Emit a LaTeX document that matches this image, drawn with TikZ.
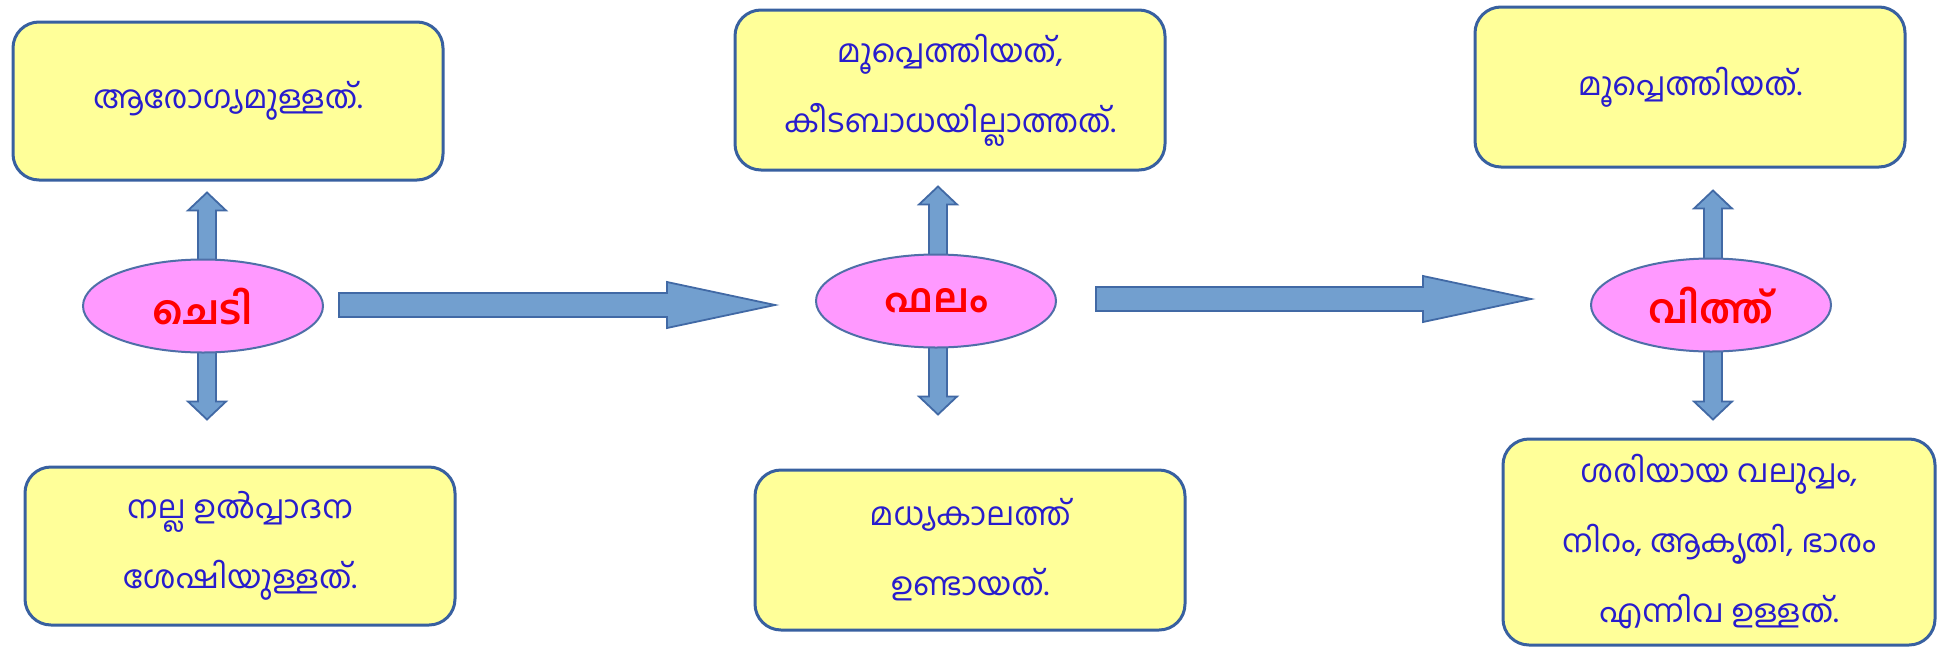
\documentclass[tikz,border=0pt]{standalone}
\usepackage{fontspec}
\newfontfamily\mlfont[Script=Malayalam]{Hind Kochi}
\usetikzlibrary{shapes.geometric,calc}
\pgfdeclarelayer{bg}
\pgfsetlayers{bg,main}
\definecolor{boxfill}{RGB}{255,255,153}
\definecolor{boxline}{RGB}{56,96,160}
\definecolor{mltext}{RGB}{40,28,205}
\definecolor{ellfill}{RGB}{255,153,255}
\definecolor{ellline}{RGB}{79,111,168}
\definecolor{arrfill}{RGB}{114,159,207}
\definecolor{arrline}{RGB}{65,105,165}
\tikzset{
  infobox/.style={draw=boxline, line width=3pt, fill=boxfill, rounded corners=26pt,
    minimum width=430pt, minimum height=158pt, align=center, text=mltext, inner sep=0pt,
    font=\mlfont\fontsize{32}{70}\selectfont},
  stage/.style={ellipse, draw=ellline, line width=2pt, fill=ellfill, minimum width=240pt,
    minimum height=93pt, inner sep=0pt, text=red, font=\mlfont\bfseries\fontsize{40}{44}\selectfont},
  arrowbody/.style={fill=arrfill, draw=arrline, line width=1.8pt, line join=miter}
}
% #1 from, #2 to, #3 shaft half width, #4 head half width, #5 head length
\newcommand\blockarrow[5]{%
  \path[arrowbody] let \p1=#1, \p2=#2, \n1={veclen(\x2-\x1,\y2-\y1)},
    \n2={(\x2-\x1)/\n1}, \n3={(\y2-\y1)/\n1} in
    ({\x1-\n3*#3},{\y1+\n2*#3}) -- ({\x2-\n2*#5-\n3*#3},{\y2-\n3*#5+\n2*#3})
    -- ({\x2-\n2*#5-\n3*#4},{\y2-\n3*#5+\n2*#4}) -- (\p2)
    -- ({\x2-\n2*#5+\n3*#4},{\y2-\n3*#5-\n2*#4}) -- ({\x2-\n2*#5+\n3*#3},{\y2-\n3*#5-\n2*#3})
    -- ({\x1+\n3*#3},{\y1-\n2*#3}) -- cycle;}
\begin{document}
\begin{tikzpicture}[x=1pt,y=-1pt]
\useasboundingbox (0,0) rectangle (1941,651);
% stages
\node[stage] (e1) at (203,306) {ചെടി};
\node[stage] (e2) at (936,301) {ഫലം};
\node[stage] (e3) at (1711,305) {വിത്ത്};
% boxes
\node[infobox] (b1) at (228,101) {ആരോഗ്യമുള്ളത്.};
\node[infobox, minimum height=160pt] (b2) at (950,90) {മൂപ്പെത്തിയത്,\\കീടബാധയില്ലാത്തത്.};
\node[infobox, minimum height=160pt] (b3) at (1690,87) {മൂപ്പെത്തിയത്.};
\node[infobox] (b4) at (240,546) {നല്ല ഉൽപ്പാദന\\ശേഷിയുള്ളത്.};
\node[infobox, minimum height=160pt] (b5) at (970,550) {മധ്യകാലത്ത്\\ഉണ്ടായത്.};
\node[infobox, minimum width=432pt, minimum height=206pt] (b6) at (1719,542) {ശരിയായ വലുപ്പം,\\നിറം, ആകൃതി, ഭാരം\\എന്നിവ ഉള്ളത്.};
% arrow end points
\coordinate (u1a) at ($(e1.north)+(4,4)$);  \coordinate (u1b) at ($(e1.north)+(4,-66)$);
\coordinate (d1a) at ($(e1.south)+(4,-4)$); \coordinate (d1b) at ($(e1.south)+(4,66)$);
\coordinate (u2a) at ($(e2.north)+(2,4)$);  \coordinate (u2b) at ($(e2.north)+(2,-67)$);
\coordinate (d2a) at ($(e2.south)+(2,-4)$); \coordinate (d2b) at ($(e2.south)+(2,66)$);
\coordinate (u3a) at ($(e3.north)+(2,4)$);  \coordinate (u3b) at ($(e3.north)+(2,-67)$);
\coordinate (d3a) at ($(e3.south)+(2,-4)$); \coordinate (d3b) at ($(e3.south)+(2,67)$);
\coordinate (h1a) at ($(e1.east)+(15,-1)$); \coordinate (h1b) at ($(h1a -| e2.west)+(-40,0)$);
\coordinate (h2a) at ($(e2.east)+(39,-2)$); \coordinate (h2b) at ($(h2a -| e3.west)+(-59,0)$);
\begin{pgfonlayer}{bg}
\blockarrow{(u1a)}{(u1b)}{9}{19}{18}
\blockarrow{(d1a)}{(d1b)}{9}{19}{18}
\blockarrow{(u2a)}{(u2b)}{9}{19}{18}
\blockarrow{(d2a)}{(d2b)}{9}{19}{18}
\blockarrow{(u3a)}{(u3b)}{9}{19}{18}
\blockarrow{(d3a)}{(d3b)}{9}{19}{18}
\blockarrow{(h1a)}{(h1b)}{12}{23}{108}
\blockarrow{(h2a)}{(h2b)}{12}{23}{108}
\end{pgfonlayer}
\end{tikzpicture}
\end{document}
